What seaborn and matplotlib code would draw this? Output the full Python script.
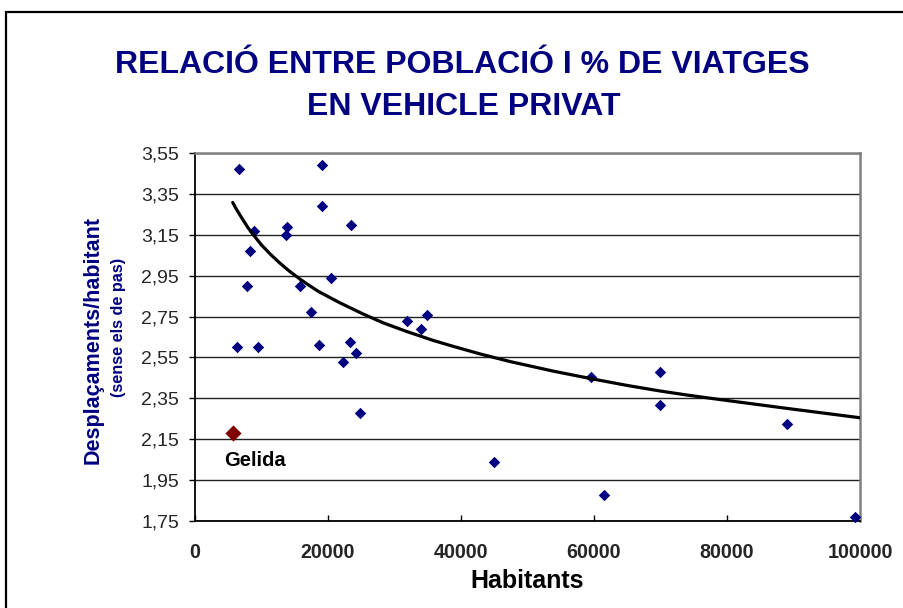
import numpy as np
import pandas as pd
import matplotlib
matplotlib.use("Agg")
import matplotlib.pyplot as plt
import seaborn as sns
from matplotlib.patches import Rectangle

# ---------------- data ----------------
title_lines = ["RELACIÓ ENTRE POBLACIÓ I % DE VIATGES", "EN VEHICLE PRIVAT"]
x_title = "Habitants"
y_title = "Desplaçaments/habitant"
y_subtitle = "(sense els de pas)"

habitants = [6670, 19050, 19050, 23460, 8870, 13880, 13680, 8320, 20450, 7870,
             15790, 17440, 31830, 34840, 33940, 6270, 9470, 18600, 23260, 24210,
             22260, 24860, 59600, 69920, 69920, 44960, 61500, 88970, 99250]
desplacaments = [3.47, 3.49, 3.29, 3.20, 3.17, 3.19, 3.15, 3.07, 2.94, 2.90,
                 2.90, 2.77, 2.73, 2.76, 2.69, 2.60, 2.60, 2.61, 2.625, 2.57,
                 2.53, 2.28, 2.456, 2.479, 2.319, 2.037, 1.876, 2.226, 1.768]

gelida_name = "Gelida"
gelida_habitants = [5760]
gelida_desplacaments = [2.18]

# trend line
trend_habitants = [5670, 6300, 7020, 8000, 8870, 10030, 11300, 12780, 14200,
                   15790, 17000, 18550, 21800, 25310, 28320, 31830, 35840,
                   38850, 43000, 47370, 53880, 59600, 65000, 69920, 74000,
                   78950, 88970, 100000]
trend_desplacaments = [3.308, 3.271, 3.233, 3.183, 3.146, 3.099, 3.056, 3.011,
                       2.972, 2.933, 2.906, 2.873, 2.817, 2.762, 2.719, 2.677,
                       2.633, 2.604, 2.566, 2.530, 2.483, 2.446, 2.413, 2.386,
                       2.366, 2.344, 2.301, 2.255]

y_ticks = [1.75, 1.95, 2.15, 2.35, 2.55, 2.75, 2.95, 3.15, 3.35, 3.55]
y_tick_labels = ["1,75", "1,95", "2,15", "2,35", "2,55", "2,75", "2,95",
                 "3,15", "3,35", "3,55"]
x_ticks = [0, 20000, 40000, 60000, 80000, 100000]
x_tick_labels = ["0", "20000", "40000", "60000", "80000", "100000"]

# ---------------- style ----------------
sns.set_style("white")
plt.rcParams["font.family"] = ["Liberation Sans", "DejaVu Sans"]

NAVY = "#000080"
DARKRED = "#800000"

W, H = 904, 608
fig = plt.figure(figsize=(W / 100, H / 100), dpi=100)
fig.patch.set_facecolor("white")

def fx(px):
    return px / W

def fy(py):
    return 1 - py / H

ax = fig.add_axes([fx(195), fy(521), (860 - 195) / W, (521 - 153) / H])

df = pd.DataFrame({"x": habitants, "y": desplacaments})
dg = pd.DataFrame({"x": gelida_habitants, "y": gelida_desplacaments})
dt = pd.DataFrame({"x": trend_habitants, "y": trend_desplacaments})

sns.scatterplot(data=df, x="x", y="y", marker="D", s=34, color=NAVY,
                linewidth=0, ax=ax, zorder=3, clip_on=False)
sns.scatterplot(data=dg, x="x", y="y", marker="D", s=68, color=DARKRED,
                linewidth=0, ax=ax, zorder=3, clip_on=False)
sns.lineplot(data=dt, x="x", y="y", color="black", linewidth=2.3, ax=ax,
             zorder=4, sort=False)

ax.set_xlim(x_ticks[0], x_ticks[-1])
ax.set_ylim(y_ticks[0], y_ticks[-1])
ax.set_xticks(x_ticks)
ax.set_xticklabels(x_tick_labels, fontsize=14.2, fontweight="bold")
ax.set_yticks(y_ticks)
ax.set_yticklabels(y_tick_labels, fontsize=14)
ax.set_xlabel("")
ax.set_ylabel("")

ax.yaxis.grid(True, color="#222222", linewidth=1.0)
ax.xaxis.grid(False)
ax.set_axisbelow(True)

ax.tick_params(axis="y", direction="out", length=4.5, width=1, color="black",
               pad=7, left=True)
ax.tick_params(axis="x", direction="in", length=4.5, width=1, color="black",
               pad=16, bottom=True)

for side in ["left", "bottom"]:
    ax.spines[side].set_color("black")
    ax.spines[side].set_linewidth(1.3)
for side in ["top", "right"]:
    ax.spines[side].set_visible(True)
    ax.spines[side].set_color("#808080")
    ax.spines[side].set_linewidth(1.8)

ax.text(4360, 2.02, gelida_name, fontsize=14.5, fontweight="bold",
        color="black", va="baseline", ha="left")

# titles
fig.text(fx(462), fy(73), title_lines[0], fontsize=23, fontweight="bold",
         color=NAVY, ha="center", va="baseline")
fig.text(fx(464), fy(115), title_lines[1], fontsize=23, fontweight="bold",
         color=NAVY, ha="center", va="baseline")

fig.text(fx(93), fy(340), y_title, rotation=90, fontsize=15.5,
         fontweight="bold", color=NAVY, ha="center", va="center")
fig.text(fx(118), fy(327), y_subtitle, rotation=90, fontsize=11.7,
         fontweight="bold", color=NAVY, ha="center", va="center")
fig.text(fx(527.5), fy(588), x_title, fontsize=18, fontweight="bold",
         color="black", ha="center", va="baseline")

# outer chart border (left and top visible)
fig.patches.append(Rectangle((fx(6.5), -0.2), 1.5, fy(11.5) + 0.2,
                             transform=fig.transFigure, fill=False,
                             edgecolor="black", linewidth=1.6,
                             clip_on=False))

fig.savefig("out.png", dpi=100, facecolor="white")
